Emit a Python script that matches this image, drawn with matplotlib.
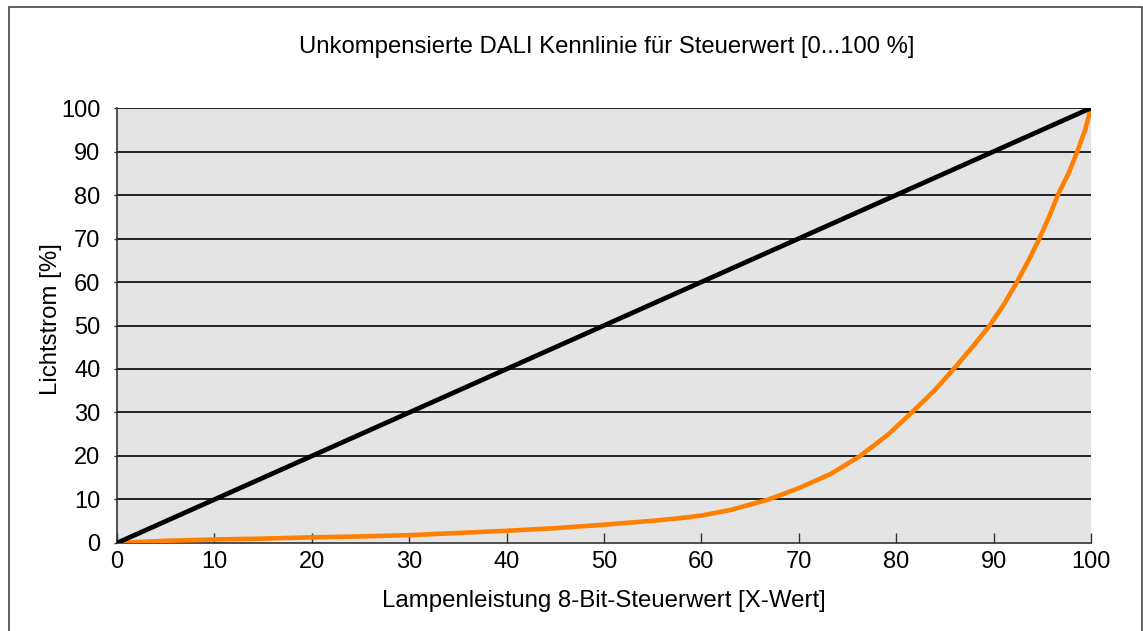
import matplotlib
matplotlib.use("Agg")
import matplotlib.pyplot as plt
from matplotlib.patches import Rectangle

# linear reference (compensated)
lin_x = [0, 100]
lin_y = [0, 100]

# uncompensated DALI curve
dali_x = [0, 5, 10, 15, 20, 25, 30, 35, 40, 45, 50, 55, 57.8, 60, 63, 66.9, 70,
          73.3, 76.3, 79.2, 81.6, 83.9, 85.9, 87.8, 89.6, 91.1, 92.4, 93.6, 94.7,
          95.7, 96.6, 97.7, 98.6, 99.4, 100]
dali_y = [0, 0.5, 0.8, 1.0, 1.3, 1.5, 1.8, 2.3, 2.8, 3.4, 4.2, 5.1, 5.7, 6.3, 7.6,
          10, 12.6, 15.9, 20, 25, 30, 35, 40, 45, 50, 55, 60, 65, 70,
          75, 80, 85, 90, 95, 100]

x_ticks = [0, 10, 20, 30, 40, 50, 60, 70, 80, 90, 100]
y_ticks = [0, 10, 20, 30, 40, 50, 60, 70, 80, 90, 100]

title = "Unkompensierte DALI Kennlinie für Steuerwert [0...100 %]"
xlabel = "Lampenleistung 8-Bit-Steuerwert [X-Wert]"
ylabel = "Lichtstrom [%]"

plt.rcParams["font.family"] = ["Liberation Sans", "DejaVu Sans"]

fig = plt.figure(figsize=(11.43, 6.31), dpi=100)
ax = fig.add_axes([0.1024, 0.1395, 0.8521, 0.6893])

# frame round the whole figure
fig.patches.append(Rectangle((9 / 1143, -0.05), (1142 - 9) / 1143, 1.05 - 7 / 631,
                             transform=fig.transFigure, fill=False,
                             edgecolor="#444444", linewidth=1.2))

ax.set_facecolor("#e4e4e4")
ax.set_xlim(0, 100)
ax.set_ylim(0, 100)

for v in y_ticks[1:]:
    ax.axhline(v, color="black", linewidth=1.2, zorder=1)

ax.plot(dali_x, dali_y, color="#ff8000", linewidth=3.3, zorder=3,
        solid_capstyle="butt", solid_joinstyle="round")
ax.plot(lin_x, lin_y, color="black", linewidth=3.4, zorder=4,
        solid_capstyle="butt")

ax.set_xticks(x_ticks)
ax.set_yticks(y_ticks)
ax.tick_params(axis="x", direction="in", length=7, width=1, color="#333333",
               labelsize=17, pad=6)
ax.tick_params(axis="y", direction="out", length=2, width=1, color="#333333",
               labelsize=17, pad=10)

for s in ["top", "right"]:
    ax.spines[s].set_visible(False)
for s in ["left", "bottom"]:
    ax.spines[s].set_color("#333333")
    ax.spines[s].set_linewidth(1.2)

ax.set_xlabel(xlabel, fontsize=17.3, labelpad=12)
ax.set_ylabel(ylabel, fontsize=17.3)
ax.yaxis.set_label_coords(-0.0565, 0.515)
fig.text(607 / 1143, 1 - 47 / 631, title, fontsize=17.2, ha="center", va="center")

fig.savefig("out.png", dpi=100)
